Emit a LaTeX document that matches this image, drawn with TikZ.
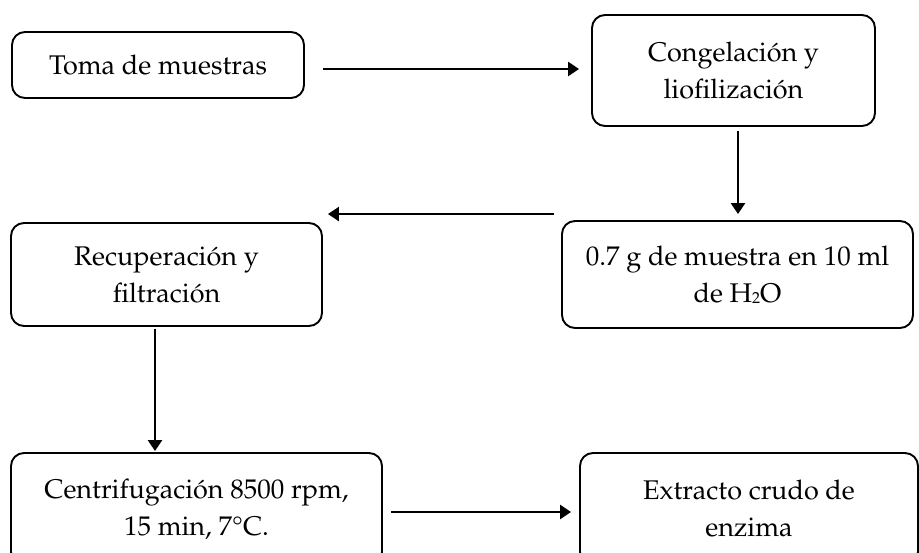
\documentclass[tikz,border=0pt]{standalone}
\usepackage[T1]{fontenc}
\usepackage{mathpazo}
\usetikzlibrary{arrows.meta,calc}
\begin{document}
\begin{tikzpicture}[x=1pt,y=-1pt,
  stepbox/.style={draw=black,line width=1.9pt,rounded corners=13pt,fill=white,
    align=center,inner sep=0pt,font=\fontsize{27}{37}\selectfont},
  arr/.style={line width=2.5pt,-{Triangle[length=11pt,width=14pt]}}]
\useasboundingbox (0,0) rectangle (919,553);
\clip (0,0) rectangle (919,553);
\fill[white] (0,0) rectangle (919,553);

% process steps
\node[stepbox,minimum width=292pt,minimum height=66pt] (toma) at (158,65) {Toma de muestras};
\node[stepbox,minimum width=283pt,minimum height=111pt] (cong) at (733.5,70.5) {Congelaci\'on y\\liofilizaci\'on};
\node[stepbox,minimum width=351pt,minimum height=107pt] (muestra) at (737.5,274.5) {0.7 g de muestra en 10 ml\\de H{\fontsize{16}{16}\selectfont\raisebox{-1pt}{2}}O};
\node[stepbox,minimum width=311pt,minimum height=103pt] (recup) at (166.5,274.5) {Recuperaci\'on y\\filtraci\'on};
\node[stepbox,minimum width=371pt,minimum height=112pt] (centri) at (196.5,509) {Centrifugaci\'on 8500 rpm,\\15 min, 7\textdegree C.};
\node[stepbox,minimum width=338pt,minimum height=112pt] (extr) at (749,509) {Extracto crudo de\\enzima};

% connectors
\draw[arr] ($(toma.east)+(18,4)$) -- ($(cong.west)+(-12,-1.5)$);
\draw[arr] ($(cong.south)+(4.5,4)$) -- ($(muestra.north)+(0.5,-6)$);
\draw[arr] ($(muestra.north west)+(-7,-6)$) -- ($(recup.north east)+(5,-8)$);
\draw[arr] ($(recup.south)+(-11.5,2)$) -- ($(centri.north)+(-41.5,-1)$);
\draw[arr] ($(centri.east)+(8,3)$) -- ($(extr.west)+(-8,3)$);
\end{tikzpicture}
\end{document}
